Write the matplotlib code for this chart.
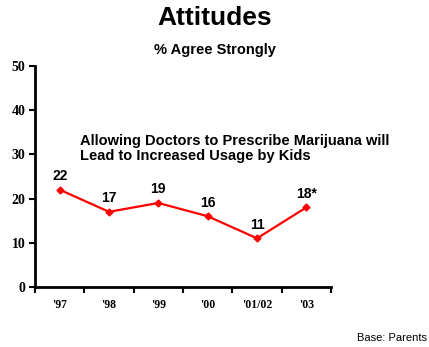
import matplotlib
matplotlib.use("Agg")
from matplotlib import pyplot as plt
import numpy as np

# survey years and share agreeing strongly
years = ["'97", "'98", "'99", "'00", "'01/02", "'03"]
agree = [22, 17, 19, 16, 11, 18]
point_labels = ["22", "17", "19", "16", "11", "18*"]

sans = "Liberation Sans"
serif = "Liberation Serif"

fig = plt.figure(figsize=(4.29, 3.47), dpi=100)
ax = fig.add_axes([0.0816, 0.173, 0.690, 0.637])

x = np.arange(len(years))
ax.plot(x, agree, color="#ff0000", lw=1.6, marker="D", ms=3.5, zorder=3)
for xi, v, lab in zip(x, agree, point_labels):
    ax.text(xi, v + 1.5, lab, ha="center", va="bottom", fontsize=10,
            fontweight="bold", family=sans)

ax.set_xlim(-0.5, len(years) - 0.5)
ax.set_ylim(0, 50)
ax.set_yticks(range(0, 51, 10))
ax.set_yticklabels([str(v) for v in range(0, 51, 10)], family=serif,
                   fontweight="bold", fontsize=10)

# category names sit between the boundary ticks
ax.set_xticks(np.arange(-0.5, len(years), 1.0))
ax.set_xticklabels([])
ax.set_xticks(x, minor=True)
ax.set_xticklabels(years, minor=True, family=serif, fontweight="bold", fontsize=8.5)
ax.tick_params(axis="x", which="minor", length=0, pad=9)
ax.tick_params(axis="x", which="major", length=4, width=1.5, direction="out")
ax.tick_params(axis="y", length=4, width=1.5, direction="out", pad=3)

for side in ["top", "right"]:
    ax.spines[side].set_visible(False)
for side in ["left", "bottom"]:
    ax.spines[side].set_linewidth(2)

ax.text(0.152, 0.69, "Allowing Doctors to Prescribe Marijuana will\nLead to Increased Usage by Kids",
        transform=ax.transAxes, fontsize=10.5, fontweight="bold", family=sans,
        va="top", ha="left", linespacing=1.08)

fig.text(0.5, 0.948, "Attitudes", ha="center", va="center", fontsize=19,
         fontweight="bold", family=sans)
fig.text(0.5, 0.856, "% Agree Strongly", ha="center", va="center", fontsize=10.5,
         fontweight="bold", family=sans)
fig.text(0.995, 0.026, "Base: Parents", ha="right", va="center", fontsize=8,
         family=sans)

plt.savefig("out.png", dpi=100)
